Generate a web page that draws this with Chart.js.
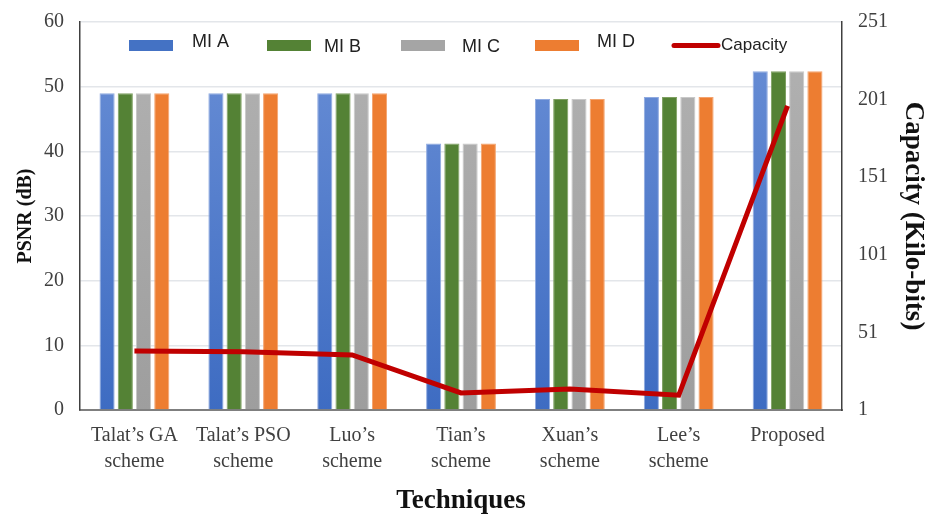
<!DOCTYPE html>
<html>
<head>
<meta charset="utf-8">
<script src="https://cdn.jsdelivr.net/npm/chart.js@4.4.1/dist/chart.umd.min.js"></script>
<style>
  html, body { margin: 0; padding: 0; background: #fff; }
  #wrap { width: 935px; height: 521px; }
</style>
</head>
<body>
<div id="wrap"><canvas id="chart" width="935" height="521"></canvas></div>
<script>
// Chart data
const techniques = [
  ["Talat\u2019s GA", "scheme"],
  ["Talat\u2019s PSO", "scheme"],
  ["Luo\u2019s", "scheme"],
  ["Tian\u2019s", "scheme"],
  ["Xuan\u2019s", "scheme"],
  ["Lee\u2019s", "scheme"],
  "Proposed"
];
const miA = [49.0, 49.0, 49.0, 41.2, 48.1, 48.4, 52.4];
const miB = [49.0, 49.0, 49.0, 41.2, 48.1, 48.4, 52.4];
const miC = [49.0, 49.0, 49.0, 41.2, 48.1, 48.4, 52.4];
const miD = [49.0, 49.0, 49.0, 41.2, 48.1, 48.4, 52.4];
const capacity = [39, 38.5, 36.5, 12, 14.5, 10.5, 197];

const psnrTicks = [0, 10, 20, 30, 40, 50, 60];
const capacityTicks = [1, 51, 101, 151, 201, 251];

const ctx = document.getElementById("chart");

// bar fill with a light top like the office-style gradient
const barFill = (top, bottom) => (context) => {
  const area = context.chart.chartArea;
  if (!area) return bottom;
  const g = context.chart.ctx.createLinearGradient(0, area.top, 0, area.bottom);
  g.addColorStop(0, top);
  g.addColorStop(1, bottom);
  return g;
};

// legend drawn inside the plot, as in the original
const insideLegend = {
  id: "insideLegend",
  afterDraw(chart, args, opts) {
    const c = chart.ctx;
    c.save();
    opts.items.forEach((it) => {
      if (it.line) {
        c.strokeStyle = it.color;
        c.lineWidth = 5;
        c.lineCap = "round";
        c.beginPath();
        c.moveTo(it.x + 2, opts.y);
        c.lineTo(it.x + 46, opts.y);
        c.stroke();
      } else {
        c.fillStyle = it.color;
        c.fillRect(it.x, opts.y - 5.5, 44, 11);
      }
      c.fillStyle = "#222";
      c.font = it.font;
      c.textBaseline = "middle";
      c.fillText(it.label, it.tx, opts.y + it.dy);
    });
    c.restore();
  }
};

const serif = "'Liberation Serif', 'Times New Roman', serif";
const tickFont = { family: serif, size: 20 };
const legendFont = "18px 'Liberation Sans', Arial, sans-serif";

new Chart(ctx, {
  type: "bar",
  plugins: [insideLegend],
  data: {
    labels: techniques,
    datasets: [
      {
        type: "line",
        label: "Capacity",
        data: capacity,
        yAxisID: "yCap",
        borderColor: "#C00000",
        borderWidth: 5,
        pointRadius: 0,
        tension: 0,
        order: 0
      },
      { label: "MI A", data: miA, yAxisID: "y", backgroundColor: barFill("#6A8FD6", "#3E6CC2"), borderColor: "#8FAAE0", borderWidth: 1, order: 1 },
      { label: "MI B", data: miB, yAxisID: "y", backgroundColor: "#548235", borderColor: "#7FA062", borderWidth: 1, order: 1 },
      { label: "MI C", data: miC, yAxisID: "y", backgroundColor: barFill("#B2B2B2", "#9E9E9E"), borderColor: "#C8C8C8", borderWidth: 1, order: 1 },
      { label: "MI D", data: miD, yAxisID: "y", backgroundColor: "#ED7D31", borderColor: "#F4A36E", borderWidth: 1, order: 1 }
    ]
  },
  options: {
    responsive: false,
    animation: false,
    events: [],
    categoryPercentage: 0.67,
    barPercentage: 0.83,
    layout: { padding: { top: 22, left: 0, right: 0, bottom: 0 } },
    plugins: {
      legend: { display: false },
      tooltip: { enabled: false },
      insideLegend: {
        y: 45.5,
        items: [
          { label: "MI A", color: "#4472C4", x: 129, tx: 192, dy: -3.5, font: legendFont },
          { label: "MI B", color: "#548235", x: 267, tx: 324, dy: 2, font: legendFont },
          { label: "MI C", color: "#A5A5A5", x: 401, tx: 462, dy: 2, font: legendFont },
          { label: "MI D", color: "#ED7D31", x: 535, tx: 597, dy: -3.5, font: legendFont },
          { label: "Capacity", color: "#C00000", x: 672, tx: 721, dy: 0, line: true, font: "17px 'Liberation Sans', Arial, sans-serif" }
        ]
      }
    },
    scales: {
      x: {
        grid: { display: false, drawTicks: false },
        border: { display: true, color: "#7F7F7F", width: 2 },
        ticks: { color: "#404040", font: { family: serif, size: 20, lineHeight: 1.3 }, padding: 13, maxRotation: 0, autoSkip: false },
        title: {
          display: true,
          text: "Techniques",
          color: "#111",
          font: { family: serif, size: 27, weight: "bold" },
          padding: { top: 10, bottom: 4 }
        },
        afterFit: (s) => { s.height = 111; }
      },
      y: {
        position: "left",
        min: 0,
        max: 60,
        afterBuildTicks: (s) => { s.ticks = psnrTicks.map((v) => ({ value: v })); },
        grid: { color: "#E3E6EA", lineWidth: 1.5, drawTicks: false },
        border: { display: true, color: "#404040", width: 1.5 },
        ticks: { color: "#404040", font: tickFont, padding: 16 },
        title: {
          display: true,
          text: "PSNR (dB)",
          color: "#111",
          font: { family: serif, size: 20, weight: "bold" },
          padding: { top: 14, bottom: 0 }
        },
        afterFit: (s) => { s.width = 80; s.paddingTop = 0; s.paddingBottom = 0; }
      },
      yCap: {
        position: "right",
        min: 1,
        max: 251,
        afterBuildTicks: (s) => { s.ticks = capacityTicks.map((v) => ({ value: v })); },
        grid: { display: false, drawTicks: false },
        border: { display: true, color: "#404040", width: 1.5 },
        ticks: { color: "#404040", font: tickFont, padding: 16 },
        title: {
          display: true,
          text: "Capacity (Kilo-bits)",
          color: "#111",
          font: { family: serif, size: 27, weight: "bold" },
          padding: { top: 6, bottom: 0 }
        },
        afterFit: (s) => { s.width = 93; s.paddingTop = 0; s.paddingBottom = 0; }
      }
    }
  }
});
</script>
</body>
</html>
